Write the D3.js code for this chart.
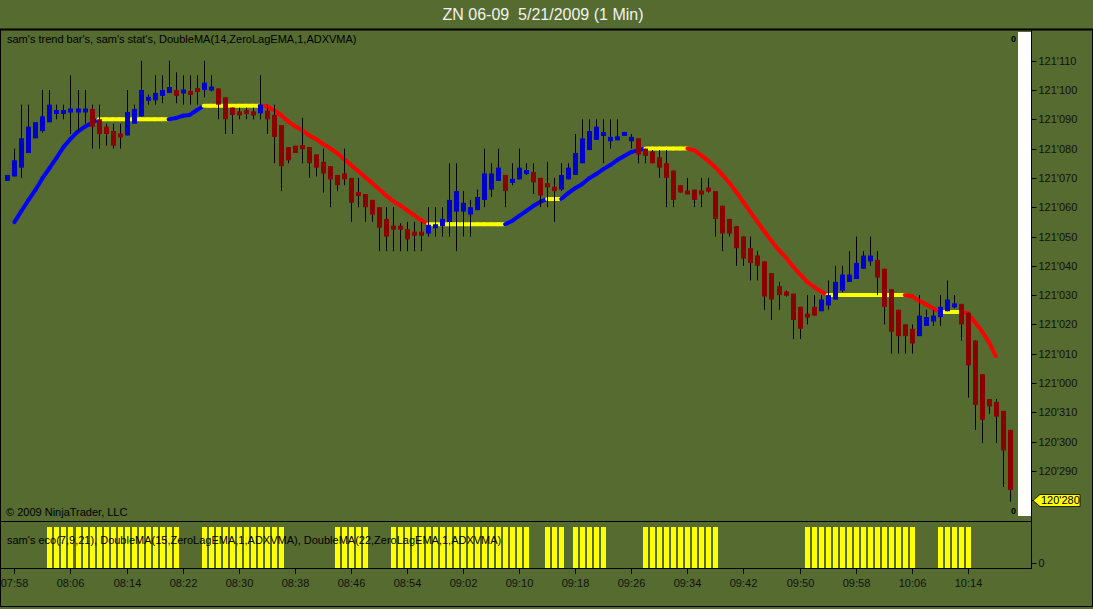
<!DOCTYPE html>
<html><head><meta charset="utf-8">
<script src="https://cdn.jsdelivr.net/npm/d3@7"></script>
<style>
html,body{margin:0;padding:0;background:#556B2F;overflow:hidden;}
svg{display:block;font-family:"Liberation Sans",Arial,sans-serif;}
</style></head><body>
<svg id="c" width="1093" height="609"></svg>
<script>
// ---------------- DATA ----------------
const chartTitle = "ZN 06-09  5/21/2009 (1 Min)";
const priceLabel = "sam's trend bar's, sam's stat's, DoubleMA(14,ZeroLagEMA,1,ADXVMA)";
const ecoLabel = "sam's eco(7,9,21), DoubleMA(15,ZeroLagEMA,1,ADXVMA), DoubleMA(22,ZeroLagEMA,1,ADXVMA)";
const copyright = "\u00A9 2009 NinjaTrader, LLC";
const startTime = "07:57";           // time of the first 1-minute bar
// prices are in 32nds above 120'000 (e.g. 41.5 = 121'095)
const open32 = [
 38.90,39.05,39.35,39.85,40.35,40.60,40.90,41.25,41.25,41.30,
 41.30,41.30,41.35,41.00,40.75,40.60,40.45,40.45,40.85,41.10,
 41.70,41.65,41.80,41.90,42.00,41.95,41.90,42.00,42.00,42.05,
 42.05,41.75,41.40,41.20,41.25,41.20,41.20,41.30,41.15,40.80,
 40.05,40.10,40.05,40.05,39.80,39.55,39.40,39.10,39.15,39.00,
 38.45,38.45,38.25,38.00,37.60,37.30,37.30,37.25,37.10,37.10,
 37.10,37.35,37.35,37.50,37.85,37.85,37.75,37.90,38.25,38.60,
 38.90,39.10,38.90,38.95,39.20,39.20,39.00,38.75,38.70,38.60,
 38.95,39.10,39.50,39.95,40.30,40.50,40.25,40.35,40.50,40.25,
 40.35,40.00,39.90,39.70,39.50,39.25,38.75,38.50,38.60,38.50,
 38.60,38.55,38.05,37.60,37.35,37.00,36.60,36.35,36.15,35.75,
 35.30,35.05,35.05,34.60,34.30,34.60,34.45,34.65,34.85,35.15,
 35.45,35.55,35.90,36.15,36.20,35.90,35.20,34.50,34.00,33.85,
 33.60,33.95,34.10,34.25,34.45,34.65,34.70,34.40,33.45,32.30,
 31.45,31.35,31.05,30.40];
const high32 = [
 39.10,40.00,41.50,41.50,40.90,42.00,42.00,41.50,41.50,42.50,
 42.00,42.00,41.50,41.50,40.85,40.85,40.85,42.00,41.50,43.00,
 41.85,42.50,42.50,43.00,42.60,42.50,42.50,42.50,43.00,42.50,
 42.05,41.75,41.40,41.40,41.40,41.40,42.50,41.50,41.50,40.80,
 40.05,40.10,41.05,40.05,39.80,40.00,39.40,39.10,40.00,39.00,
 39.00,38.45,38.25,38.00,38.00,38.00,37.45,37.50,37.50,37.50,
 38.00,38.00,38.00,39.50,39.50,38.55,38.25,38.60,40.00,39.50,
 40.00,39.10,39.50,40.00,39.50,39.50,39.00,39.55,39.00,39.50,
 39.50,40.50,41.00,41.00,41.00,41.00,41.00,41.00,40.55,40.50,
 40.35,40.00,39.95,39.95,39.95,39.25,38.75,39.00,38.60,39.00,
 39.00,38.55,38.05,37.60,37.35,37.00,37.00,36.50,36.15,35.75,
 35.45,35.15,35.05,34.60,35.00,35.00,35.00,35.50,36.00,36.00,
 36.50,37.00,36.50,37.00,36.50,35.90,35.20,34.50,34.00,34.00,
 35.00,34.50,34.50,35.00,35.50,35.00,34.70,34.40,33.45,32.30,
 31.45,31.45,31.05,30.40];
const low32 = [
 38.90,39.05,39.00,39.85,40.35,40.55,40.90,41.00,41.00,40.50,
 40.60,40.85,40.00,40.00,40.10,40.00,40.00,40.45,40.85,41.10,
 41.50,41.50,41.55,41.90,41.55,41.50,41.50,41.50,41.75,41.95,
 41.00,40.50,40.50,41.00,41.00,41.00,41.00,40.50,39.50,38.55,
 39.50,39.85,39.50,39.00,39.05,38.50,38.00,38.55,38.75,37.50,
 38.00,37.50,37.50,36.50,36.50,36.50,36.50,36.50,36.50,36.50,
 37.00,37.00,37.00,37.00,36.50,37.00,37.00,37.90,38.00,38.35,
 38.90,38.00,38.75,38.95,39.10,38.45,38.00,38.00,37.50,38.55,
 38.95,39.10,39.50,39.95,40.30,39.50,40.00,40.30,40.45,40.00,
 39.50,39.50,39.50,39.00,38.00,38.00,38.50,38.50,38.00,38.00,
 38.50,37.00,36.50,37.00,36.00,36.00,35.50,35.50,34.50,34.15,
 34.50,34.95,33.50,33.50,34.00,34.30,34.45,34.50,34.85,35.10,
 35.45,35.55,35.90,36.00,35.00,34.00,33.00,33.00,33.00,33.00,
 33.60,33.95,33.95,33.95,34.45,34.55,33.45,31.50,30.40,29.95,
 30.95,29.95,28.45,27.95];
const close32 = [
 39.10,39.60,40.35,40.75,40.90,41.10,41.50,41.25,41.25,41.30,
 41.30,41.30,40.75,40.50,40.50,40.10,40.45,41.25,41.35,42.00,
 41.70,41.90,42.00,42.10,41.80,41.95,41.90,42.00,42.25,42.05,
 41.50,41.00,41.15,41.20,41.25,41.20,41.50,41.00,40.40,39.40,
 39.60,39.85,40.05,39.50,39.35,39.15,38.95,38.75,38.95,38.15,
 38.45,38.00,37.75,37.30,37.00,37.30,37.30,36.90,37.10,37.10,
 37.40,37.35,37.60,38.25,38.55,38.15,38.00,38.35,39.15,39.15,
 39.35,38.55,38.90,39.35,39.20,38.85,38.40,38.75,38.55,39.10,
 39.35,39.85,40.35,40.60,40.75,40.50,40.40,40.35,40.50,40.40,
 39.80,39.75,39.50,39.35,39.00,38.25,38.50,38.50,38.25,38.50,
 38.60,37.60,37.10,37.10,36.60,36.25,36.10,36.00,34.95,34.85,
 35.00,35.05,34.15,33.85,34.30,34.30,34.85,35.00,35.45,35.70,
 35.70,36.10,36.35,36.35,35.60,34.60,33.75,33.60,33.60,33.35,
 34.30,34.25,34.30,34.60,34.85,34.65,34.00,32.60,31.25,30.75,
 31.20,30.85,29.70,28.35];
// trend bar colouring: u = up (blue), d = down (dark red)
const trend = [
 "u","u","u","u","u","u","u","u","u","u",
 "u","u","d","d","d","d","d","u","u","u",
 "u","u","u","u","d","u","d","d","u","u",
 "d","d","d","d","d","d","u","d","d","d",
 "d","d","d","d","d","d","d","d","d","d",
 "d","d","d","d","d","d","d","d","d","d",
 "u","u","u","u","u","u","u","u","u","u",
 "u","d","u","u","u","d","d","d","d","u",
 "u","u","u","u","u","u","u","u","u","u",
 "d","d","d","d","d","d","d","d","d","d",
 "d","d","d","d","d","d","d","d","d","d",
 "d","d","d","d","d","d","u","u","u","u",
 "u","u","u","u","d","d","d","d","d","d",
 "u","u","u","u","u","u","d","d","d","d",
 "d","d","d","d"];
// DoubleMA(14,ZeroLagEMA,1,ADXVMA) in 32nds
const ma32 = [
 null,37.49,37.87,38.24,38.59,38.99,39.33,39.68,40.05,40.33,
 40.57,40.74,40.87,41.00,41.00,41.00,41.00,41.00,41.00,41.00,
 41.00,41.00,41.00,41.00,41.04,41.12,41.15,41.31,41.46,41.46,
 41.46,41.46,41.46,41.46,41.46,41.46,41.46,41.44,41.32,41.15,
 40.94,40.77,40.63,40.46,40.33,40.16,40.02,39.85,39.65,39.44,
 39.24,39.03,38.83,38.62,38.41,38.21,38.07,37.90,37.73,37.56,
 37.42,37.42,37.42,37.42,37.42,37.42,37.42,37.42,37.42,37.42,
 37.42,37.42,37.53,37.70,37.87,38.04,38.18,38.28,38.28,38.28,
 38.48,38.65,38.79,38.99,39.13,39.30,39.44,39.61,39.75,39.88,
 39.95,40.00,40.00,40.00,40.00,40.00,40.00,40.00,39.94,39.76,
 39.58,39.36,39.10,38.83,38.51,38.17,37.83,37.50,37.17,36.85,
 36.55,36.30,36.00,35.73,35.47,35.30,35.13,35.00,35.00,35.00,
 35.00,35.00,35.00,35.00,35.00,35.00,35.00,35.00,35.00,34.96,
 34.82,34.69,34.56,34.42,34.42,34.42,34.42,34.38,34.08,33.77,
 33.40,32.92,null,null];
// sam's eco histogram (1 = signal bar)
const eco = [
 0,0,0,0,0,0,1,1,1,1, 1,1,1,1,1,1,1,1,1,1, 1,1,1,1,1,0,0,0,1,1,
 1,1,1,1,1,1,1,1,1,1, 0,0,0,0,0,0,0,1,1,1, 1,1,0,0,0,1,1,1,1,1,
 1,1,1,1,1,1,1,1,1,1, 1,1,1,1,1,0,0,1,1,1, 0,1,1,1,1,1,0,0,0,0,
 0,1,1,1,1,1,1,1,1,1, 1,1,0,0,0,0,0,0,0,0, 0,0,0,0,1,1,1,1,1,1,
 1,1,1,1,1,1,1,1,1,1, 0,0,0,1,1,1,1,1,0,0, 0,0,0,0];
const xTickLabels = ["07:58","08:06","08:14","08:22","08:30","08:38","08:46","08:54","09:02",
  "09:10","09:18","09:26","09:34","09:42","09:50","09:58","10:06","10:14"];
const yTickLabels = ["121'110","121'100","121'090","121'080","121'070","121'060","121'050","121'040",
  "121'030","121'020","121'010","121'000","120'310","120'300","120'290","120'280"];
const lastPriceLabel = "120'280";
const ecoTickLabels = ["0"];

// ---------------- DRAW ----------------
const W = 1093, H = 609;
const BG = "#556B2F";
const svg = d3.select("#c");
const n = open32.length;
const toMin = s => +s.slice(0,2)*60 + +s.slice(3,5);
const parse32 = s => (+s.slice(0,3) - 120)*32 + +s.slice(4,6) + (+s.slice(6,7))/10;

const x = d3.scaleLinear().domain([0, n-1]).range([7.4, 7.4 + 7.01*(n-1)]);
const y = d3.scaleLinear().domain([parse32("120'280"), parse32("121'110")]).range([500.2, 60.7]);
const yEco = d3.scaleLinear().domain([-0.15, 1]).range([568.5, 527]);

svg.append("rect").attr("width", W).attr("height", H).attr("fill", BG);

// title
svg.append("text").attr("x", 543).attr("y", 20).attr("text-anchor", "middle")
  .attr("fill", "#f2f2f2").attr("font-size", 16).style("white-space", "pre").text(chartTitle);

// white strip near the price axis
svg.append("rect").attr("x", 1018).attr("y", 32).attr("width", 13).attr("height", 484).attr("fill", "#fff");

// MA line segments coloured by slope
const maG = svg.append("g");
for (let i = 1; i < n; i++) {
  if (ma32[i] == null || ma32[i-1] == null) continue;
  const d = ma32[i] - ma32[i-1];
  const col = Math.abs(d) < 1e-9 ? "#FFFF00" : (d > 0 ? "#0000FF" : "#FF0000");
  maG.append("line").attr("x1", x(i-1)).attr("y1", y(ma32[i-1])).attr("x2", x(i)).attr("y2", y(ma32[i]))
    .attr("stroke", col).attr("stroke-width", 4).attr("stroke-linecap", "round");
}

// candles
const cg = svg.append("g");
const bodyW = 5;
for (let i = 0; i < n; i++) {
  const cx = Math.round(x(i));
  cg.append("line").attr("x1", cx + 0.5).attr("x2", cx + 0.5)
    .attr("y1", y(high32[i])).attr("y2", y(low32[i])).attr("stroke", "#000").attr("stroke-width", 1);
  const top = y(Math.max(open32[i], close32[i])), bot = y(Math.min(open32[i], close32[i]));
  let h = bot - top, yy = top;
  if (h < 4) { yy = (top + bot)/2 - 2; h = 4; }
  cg.append("rect").attr("x", cx - 2).attr("y", yy).attr("width", bodyW).attr("height", h)
    .attr("fill", trend[i] === "u" ? "#0000CD" : "#8B0000");
}

// price axis
const ax = svg.append("g").attr("transform", "translate(1031.5,0)");
ax.append("line").attr("y1", 30).attr("y2", 521).attr("stroke", "#000");
yTickLabels.forEach(s => {
  const v = parse32(s), yy = Math.round(y(v)) + 0.5;
  ax.append("line").attr("x1", 0).attr("x2", 5).attr("y1", yy).attr("y2", yy).attr("stroke", "#000");
  if (s === lastPriceLabel) return;   // hidden behind the last-price marker
  ax.append("text").attr("x", 7).attr("y", yy).attr("dy", "0.35em").attr("font-size", 11)
    .attr("fill", "#111").text(s);
});
// last price marker
const ly = Math.round(y(parse32(lastPriceLabel))) + 0.5;
svg.append("path").attr("d", `M1033,${ly} L1040,${ly-6} L1080,${ly-6} L1080,${ly+6} L1040,${ly+6} Z`)
  .attr("fill", "#FFFF00").attr("stroke", "#000").attr("stroke-width", 0.8);
svg.append("text").attr("x", 1041).attr("y", ly).attr("dy", "0.35em").attr("font-size", 11)
  .attr("fill", "#000").text(lastPriceLabel);

// small zero markers
svg.append("text").attr("x", 1011).attr("y", 42).attr("font-size", 9).attr("font-weight", "bold").text("0");
svg.append("text").attr("x", 1011).attr("y", 514).attr("font-size", 9).attr("font-weight", "bold").text("0");

// labels
svg.append("text").attr("x", 7).attr("y", 43).attr("font-size", 11).attr("fill", "#000").text(priceLabel);
svg.append("text").attr("x", 6).attr("y", 516).attr("font-size", 11).attr("fill", "#000").text(copyright);

// eco panel bars
const eg = svg.append("g");
for (let i = 0; i < n; i++) {
  if (!eco[i]) continue;
  eg.append("rect").attr("x", Math.round(x(i)) - 2).attr("y", yEco(eco[i]))
    .attr("width", 5).attr("height", yEco.range()[0] - yEco(eco[i])).attr("fill", "#FFFF00");
}
svg.append("text").attr("x", 7).attr("y", 544).attr("font-size", 11).attr("fill", "#000").text(ecoLabel);

// eco axis
const ex = svg.append("g").attr("transform", "translate(1031.5,0)");
ex.append("line").attr("y1", 521).attr("y2", 569).attr("stroke", "#000");
ecoTickLabels.forEach(s => {
  const yy = Math.round(yEco(+s)) + 0.5;
  ex.append("line").attr("x1", 0).attr("x2", 5).attr("y1", yy).attr("y2", yy).attr("stroke", "#000");
  ex.append("text").attr("x", 7).attr("y", yy).attr("dy", "0.35em").attr("font-size", 11).attr("fill", "#111").text(s);
});

// time axis
const t0 = toMin(startTime);
svg.append("line").attr("x1", 0).attr("x2", 1031.5).attr("y1", 568.5).attr("y2", 568.5).attr("stroke", "#000");
xTickLabels.forEach(s => {
  const xx = Math.round(x(toMin(s) - t0)) + 0.5;
  svg.append("line").attr("x1", xx).attr("x2", xx).attr("y1", 568.5).attr("y2", 574).attr("stroke", "#000");
  svg.append("text").attr("x", xx).attr("y", 587).attr("text-anchor", "middle").attr("font-size", 11)
    .attr("fill", "#111").text(s);
});

// frames
svg.append("line").attr("x1", 0).attr("x2", W).attr("y1", 29.5).attr("y2", 29.5).attr("stroke", "#000").attr("stroke-width", 2);
svg.append("line").attr("x1", 0).attr("x2", 1031.5).attr("y1", 521.5).attr("y2", 521.5).attr("stroke", "#000");
svg.append("rect").attr("x", 0.5).attr("y", 29.5).attr("width", W - 1).attr("height", 577)
  .attr("fill", "none").attr("stroke", "#000");
</script>
</body></html>
